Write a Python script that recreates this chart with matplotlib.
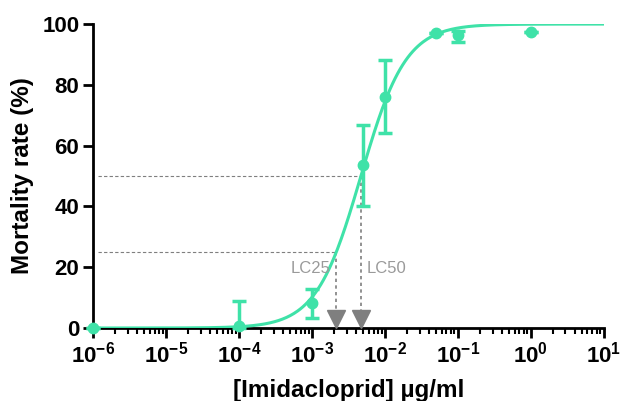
import numpy as np
import matplotlib
matplotlib.use("Agg")
import matplotlib.pyplot as plt
import matplotlib.transforms as mtransforms
from matplotlib.ticker import LogLocator, FixedLocator

plt.rcParams['font.family'] = ['Liberation Sans', 'DejaVu Sans']
plt.rcParams['font.weight'] = 'bold'
plt.rcParams['mathtext.fontset'] = 'custom'
plt.rcParams['mathtext.rm'] = 'Liberation Sans:bold'
plt.rcParams['mathtext.default'] = 'rm'

# measured points (mean, error bar low / high)
conc = [1e-6, 1e-4, 1e-3, 5e-3, 1e-2, 5e-2, 1e-1, 1e0]
mortality = [0.0, 0.8, 8.2, 53.5, 76.1, 96.9, 96.3, 97.4]
err_low = [0.0, 0.8, 4.9, 13.5, 12.0, 0.0, 2.3, 0.0]
err_high = [0.0, 8.2, 4.6, 13.4, 12.2, 0.0, 1.4, 0.0]

# fitted dose-response parameters
lc50 = 4.7e-3
lc25 = 2.16e-3
hill = np.log10(3) / np.log10(lc50 / lc25)

color = '#3fe2a8'
grey = '#7f7f7f'

fig = plt.figure(figsize=(6.21, 4.01), dpi=100)
ax = fig.add_axes([0.150, 0.182, 0.822, 0.758])

xs = np.logspace(-6, 1, 400)
ax.plot(xs, 100 / (1 + (lc50 / xs) ** hill), color=color, lw=2.2, zorder=3)

ax.errorbar(conc, mortality, yerr=[err_low, err_high], fmt='o', color=color,
            ms=7.5, elinewidth=2.5, capsize=5, capthick=2.5, clip_on=False, zorder=4)

# LC reference lines
ax.plot([1.15e-6, lc50], [50, 50], ls=(0, (3, 2)), color=grey, lw=0.8, zorder=2)
ax.plot([1.15e-6, lc25], [25, 25], ls=(0, (3, 2)), color=grey, lw=0.8, zorder=2)
ax.plot([lc50, lc50], [50, 6], ls=(0, (2, 2)), color=grey, lw=1.2, zorder=2)
ax.plot([lc25, lc25], [25, 6], ls=(0, (2, 2)), color=grey, lw=1.2, zorder=2)
ms = 13
tri = mtransforms.offset_copy(ax.transData, fig=fig, y=ms / 2, units='points')
ax.plot([lc25, lc50], [0, 0], 'v', ms=ms, color=grey, transform=tri, clip_on=False, zorder=5)
ax.text(lc25 * 0.83, 19.5, 'LC25', ha='right', va='center', color='#9a9a9a',
        fontsize=12, fontweight='normal')
ax.text(lc50 * 1.18, 19.5, 'LC50', ha='left', va='center', color='#9a9a9a',
        fontsize=12, fontweight='normal')

ax.set_xscale('log')
ax.set_xlim(1e-6, 1e1)
ax.set_ylim(0, 100)
ax.set_yticks([0, 20, 40, 60, 80, 100])
ax.xaxis.set_major_locator(FixedLocator([10.0 ** k for k in range(-6, 2)]))
ax.xaxis.set_minor_locator(LogLocator(base=10, subs=np.arange(2, 10), numticks=20))
ax.set_xticklabels([r'$10^{%d}$' % k for k in range(-6, 2)])

for s in ['top', 'right']:
    ax.spines[s].set_visible(False)
for s in ['left', 'bottom']:
    ax.spines[s].set_linewidth(2.0)
ax.tick_params(axis='both', which='major', direction='out', length=7, width=2,
               labelsize=16, pad=3)
ax.tick_params(axis='x', which='minor', direction='out', length=4, width=1.5)

ax.set_xlabel('[Imidacloprid] µg/ml', fontsize=17.5, fontweight='bold', labelpad=8)
ax.set_ylabel('Mortality rate (%)', fontsize=17.5, fontweight='bold', labelpad=6)

fig.savefig('out.png', dpi=100)
